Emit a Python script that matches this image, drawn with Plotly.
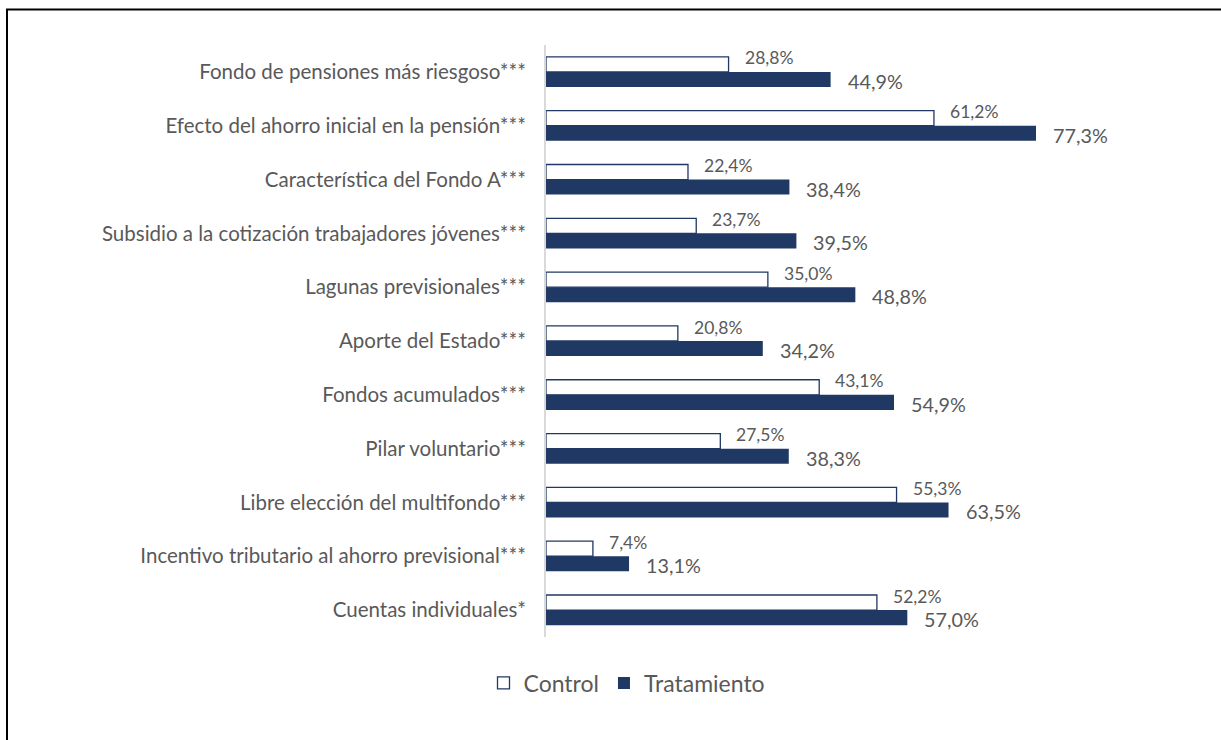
import plotly.graph_objects as go

categories = [
    "Fondo de pensiones más riesgoso***",
    "Efecto del ahorro inicial en la pensión***",
    "Característica del Fondo A***",
    "Subsidio a la cotización trabajadores jóvenes***",
    "Lagunas previsionales***",
    "Aporte del Estado***",
    "Fondos acumulados***",
    "Pilar voluntario***",
    "Libre elección del multifondo***",
    "Incentivo tributario al ahorro previsional***",
    "Cuentas individuales*",
]
control = [28.8, 61.2, 22.4, 23.7, 35.0, 20.8, 43.1, 27.5, 55.3, 7.4, 52.2]
tratamiento = [44.9, 77.3, 38.4, 39.5, 48.8, 34.2, 54.9, 38.3, 63.5, 13.1, 57.0]

NAVY = "#203864"
GRAY = "#595959"
FONT = "Lato, Calibri, sans-serif"


def fmt(v):
    return f"{v:.1f}".replace(".", ",") + "%"


fig = go.Figure()
fig.add_trace(go.Bar(
    name="Control", y=categories, x=control, orientation="h",
    marker=dict(color="white", line=dict(color=NAVY, width=1.3)),
))
fig.add_trace(go.Bar(
    name="Tratamiento", y=categories, x=tratamiento, orientation="h",
    marker=dict(color=NAVY, line=dict(color=NAVY, width=0)),
))

# value labels beside each bar end
for cat, c, t in zip(categories, control, tratamiento):
    fig.add_annotation(x=c, y=cat, text=fmt(c), showarrow=False,
                       xanchor="left", xshift=14, yshift=14,
                       font=dict(family=FONT, size=17.5, color=GRAY))
    fig.add_annotation(x=t, y=cat, text=fmt(t), showarrow=False,
                       xanchor="left", xshift=15, yshift=-9,
                       font=dict(family=FONT, size=19.8, color=GRAY))

L, R, T, B = 546, 21, 45, 103
W, H = 1221, 740
pw, ph = W - L - R, H - T - B

# outer frame around the chart
fig.add_shape(type="rect", xref="paper", yref="paper",
              x0=(7 - L) / pw, x1=(W + 20 - L) / pw,
              y0=-(H + 20 - T - ph) / ph, y1=1 + (T - 9.5) / ph,
              line=dict(color="black", width=2), fillcolor="rgba(0,0,0,0)")

fig.update_layout(
    width=W, height=H,
    margin=dict(l=L, r=R, t=T, b=B, pad=0),
    barmode="group", bargap=0.44, bargroupgap=0,
    plot_bgcolor="white", paper_bgcolor="white",
    font=dict(family=FONT, color=GRAY),
    xaxis=dict(range=[0, pw / 6.339], visible=False, fixedrange=True),
    yaxis=dict(autorange="reversed", showline=True, linecolor="#D9D9D9",
               linewidth=2, ticks="", ticklabelstandoff=14,
               tickfont=dict(family=FONT, size=20.5, color=GRAY),
               showgrid=False, zeroline=False, fixedrange=True),
    legend=dict(orientation="h", x=(627 - L) / pw, xanchor="center",
                y=-(683 - T - ph) / ph, yanchor="middle",
                font=dict(family=FONT, size=23, color=GRAY),
                traceorder="normal", itemwidth=30),
    showlegend=True,
)

fig.write_html("out.html")
